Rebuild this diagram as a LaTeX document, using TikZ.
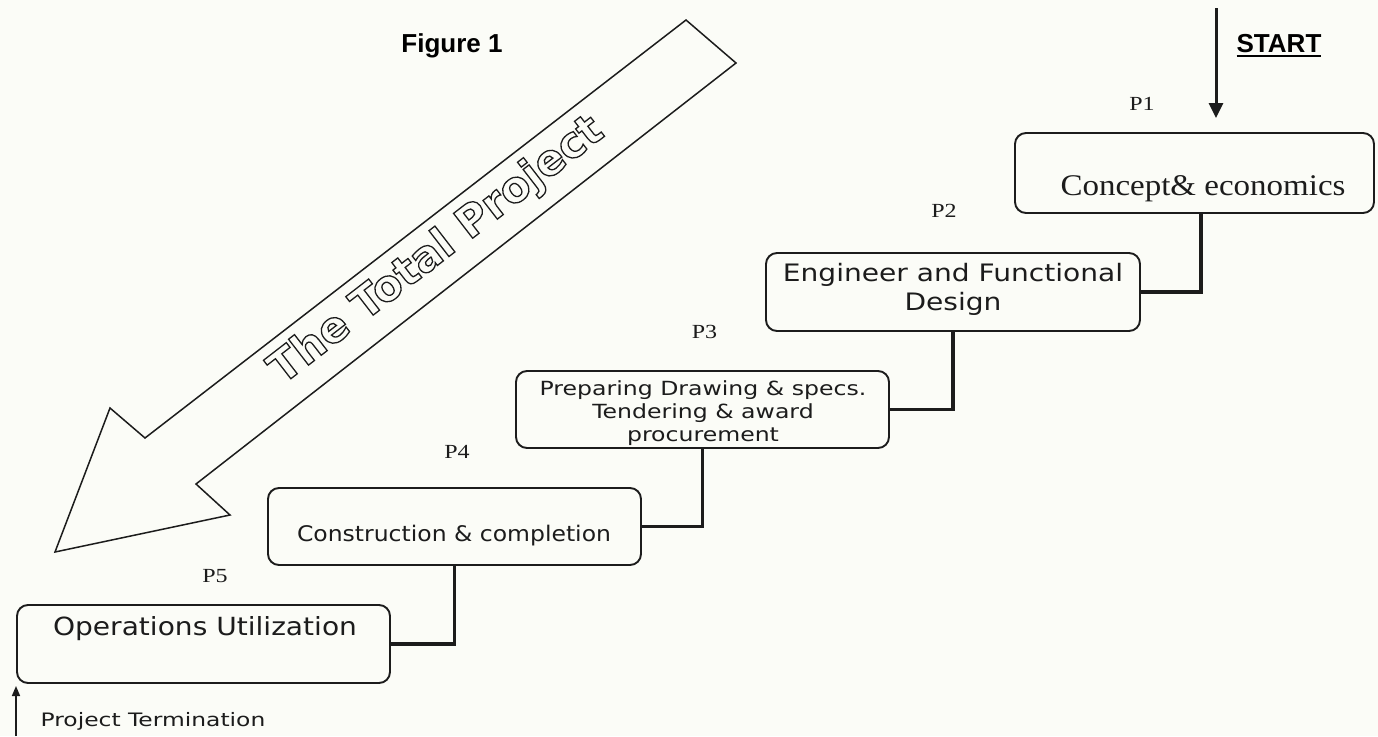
\documentclass[tikz,border=0pt]{standalone}
\usepackage{fontspec}
\usepackage{graphicx}
\setmainfont{Liberation Serif}
\newfontfamily\vfont{DejaVu Sans}
\newfontfamily\afont{Liberation Sans}
\usetikzlibrary{arrows.meta,calc}
\definecolor{paper}{RGB}{251,252,247}
\definecolor{ink}{RGB}{28,28,28}
\newcommand\sx[2]{\scalebox{#1}[1]{#2}}
\newcommand\ulthick[1]{\vtop{\hbox{#1}\kern3pt\hrule height 2.2pt}}
\newcommand\outlinetext[1]{\special{pdf:literal direct 1 Tr 1.3 w}#1\special{pdf:literal direct 0 Tr}}
\begin{document}
\begin{tikzpicture}[x=1pt,y=-1pt,
  stagebox/.style={draw=ink, line width=1.9pt, rounded corners=11pt, minimum width=373pt, minimum height=78pt, inner sep=0pt},
  link/.style={draw=ink, line width=3.6pt},
  plabel/.style={font=\fontsize{20}{22}\selectfont, anchor=base, inner sep=0pt, text=ink},
  btext/.style={font=\vfont, text=ink, inner sep=0pt},
  head/.style={font=\afont\bfseries\fontsize{26}{30}\selectfont, anchor=base, inner sep=0pt, text=black}
  ]
\fill[paper] (0,0) rectangle (1378,736);
\useasboundingbox (0,0) rectangle (1378,736);

% titles
\node[head] (fig) at (452,52) {Figure 1};
\node[head] (start) at (1279,52) {\ulthick{START}};

% big arrow
\draw[ink, line width=1.5pt, line join=miter] (686,20) -- (736,63) -- (196,484) -- (230,515) -- (55,552) -- (110,408) -- (145,438) -- cycle;
\node[rotate=37.7, font=\vfont\bfseries\fontsize{43}{48}\selectfont, inner sep=0pt, text=ink] (tp) at (437,251) {\outlinetext{The Total Project}};

% boxes
\node[stagebox, minimum width=359pt, minimum height=80pt] (b1) at (1194.5,173) {};
\node[stagebox, minimum width=374pt] (b2) at (953,292) {};
\node[stagebox, minimum height=77pt] (b3) at (702.5,409.5) {};
\node[stagebox, minimum height=77pt] (b4) at (454.5,526.5) {};
\node[stagebox] (b5) at (203.5,644) {};

% box texts
\node[anchor=base, text=ink, font=\fontsize{30}{34}\selectfont, inner sep=0pt] (t1) at (1203,195) {\sx{1.1}{Concept\& economics}};
\node[btext, font=\vfont\fontsize{24}{29}\selectfont] (t2) at (953,289.7) {\sx{1.17}{\begin{tabular}{@{}c@{}}Engineer and Functional\\Design\end{tabular}}};
\node[btext, font=\vfont\fontsize{19.5}{23.3}\selectfont] (t3) at (703,413.7) {\sx{1.21}{\begin{tabular}{@{}c@{}}Preparing Drawing \& specs.\\Tendering \& award\\procurement\end{tabular}}};
\node[btext, font=\vfont\fontsize{21.5}{26}\selectfont, anchor=base] (t4) at (454,541.7) {\sx{1.093}{Construction \& completion}};
\node[btext, font=\vfont\fontsize{25}{30}\selectfont, anchor=base] (t5) at (205,635) {\sx{1.123}{Operations Utilization}};

% phase labels
\node[plabel] (p1) at (1142,110) {\sx{1.2}{P1}};
\node[plabel] (p2) at (944,217) {\sx{1.2}{P2}};
\node[plabel] (p3) at (704.5,338) {\sx{1.2}{P3}};
\node[plabel] (p4) at (457,458) {\sx{1.2}{P4}};
\node[plabel] (p5) at (215,582) {\sx{1.2}{P5}};

% connectors
\draw[link] ($(b1.south)+(6.5,0)$) |- (b2.east);
\draw[link] (b2.south) |- (b3.east);
\draw[link] (b3.south) |- (b4.east);
\draw[link] (b4.south) |- (b5.east);

% start arrow
\coordinate (s0) at (1216,8);
\coordinate (s1) at (1216,118);
\draw[ink, line width=3pt, -{Triangle[length=15pt,width=14pt]}] (s0) -- (s1);

% termination
\coordinate (e0) at (16,736);
\coordinate (e1) at (16,686);
\draw[ink, line width=1.5pt, -{Triangle[length=10pt,width=8pt]}] (e0) -- (e1);
\node[btext, font=\vfont\fontsize{18.5}{22}\selectfont, anchor=base] (term) at (153,726) {\sx{1.265}{Project Termination}};
\end{tikzpicture}
\end{document}
